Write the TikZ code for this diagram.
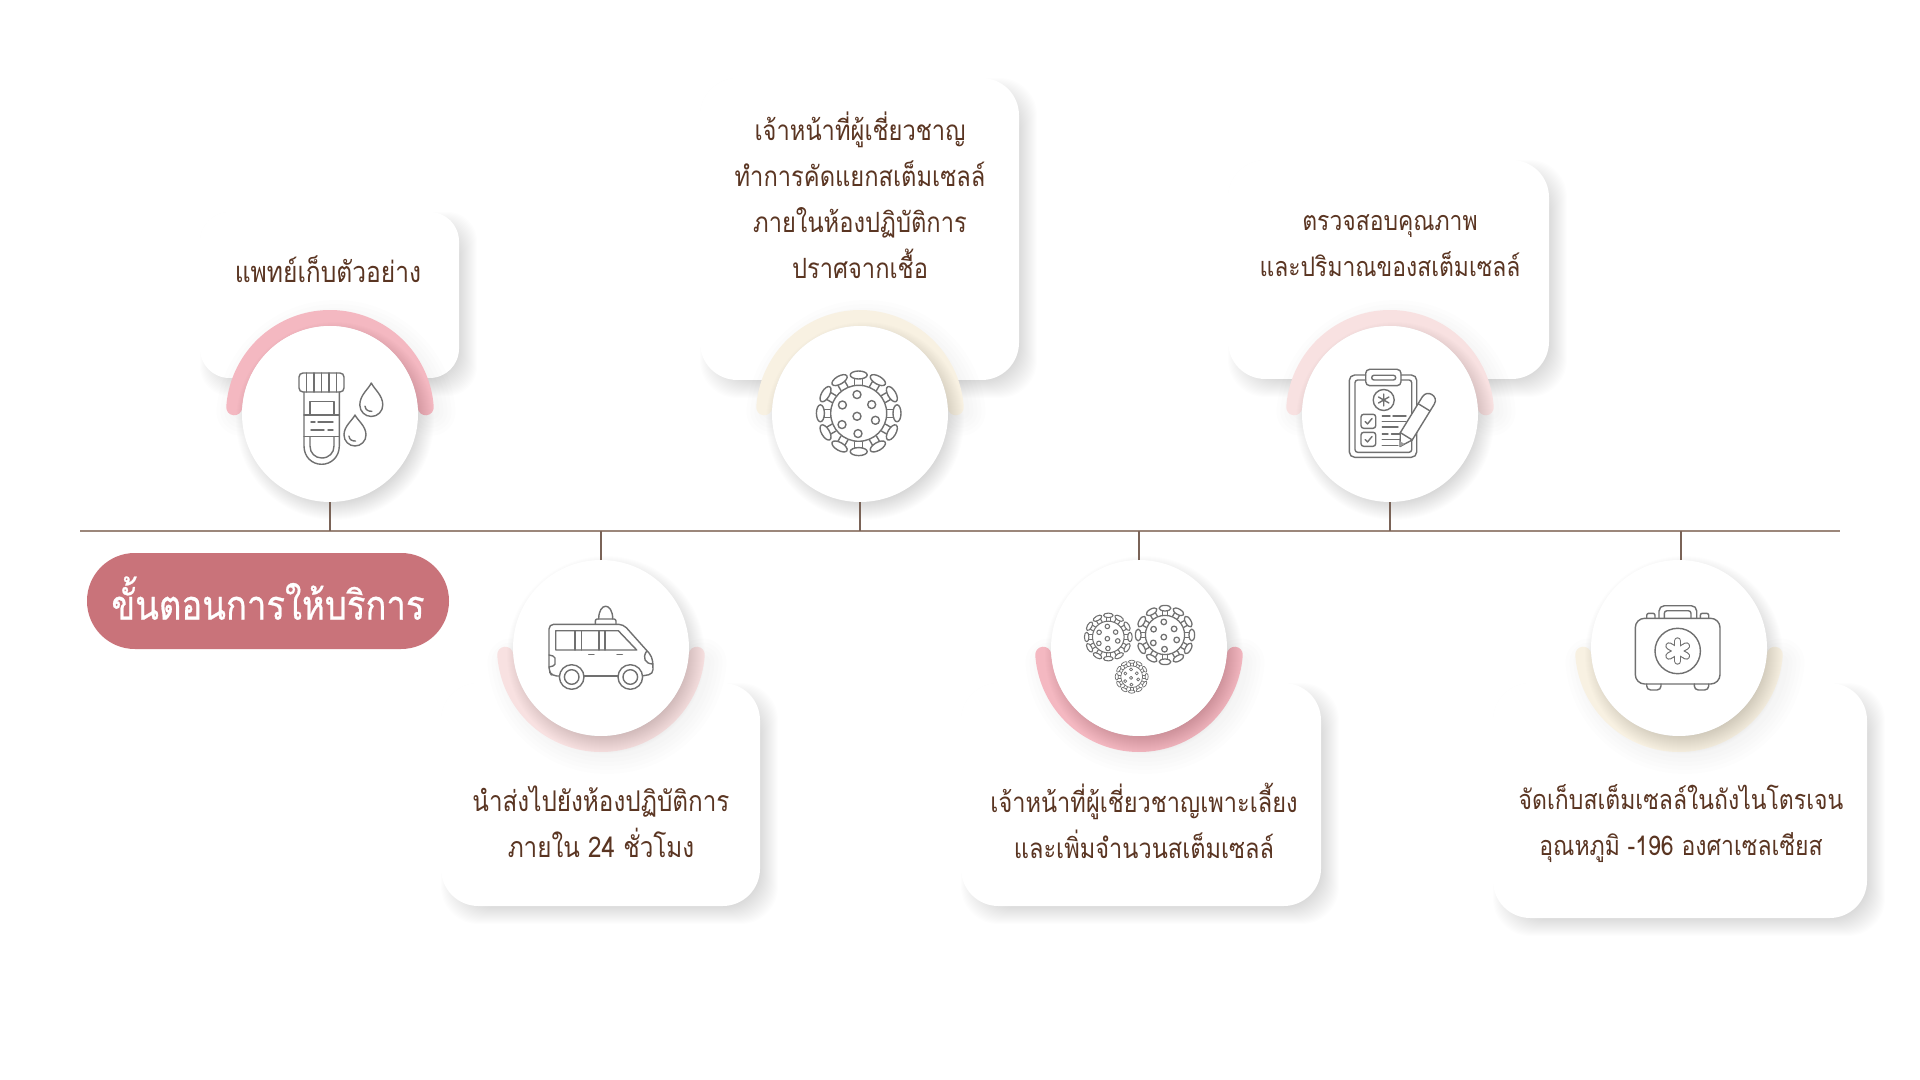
\documentclass[tikz,border=0pt]{standalone}
\usepackage{fontspec}
\newfontfamily\thaifont[Script=Thai,FakeStretch=0.85]{Loma}
\newfontfamily\pillfont[Script=Thai,FakeStretch=0.85,FakeBold=0.6]{Loma}
\definecolor{brn}{HTML}{5A3522}
\definecolor{baseln}{HTML}{9C877B}
\definecolor{stem}{HTML}{7A6357}
\definecolor{pinkA}{HTML}{F4B8C1}
\definecolor{creamA}{HTML}{F8F1E2}
\definecolor{pinkB}{HTML}{F8E1E1}
\definecolor{pillc}{HTML}{C9737A}
\definecolor{ico}{HTML}{707070}
\tikzset{
  x=0.75pt,y=-0.75pt,
  card/.style={rectangle,fill=white,rounded corners=#1,inner sep=0pt,outer sep=0pt},
  card/.default=28pt,
  disc/.style={circle,fill=white,minimum size=132pt,inner sep=0pt,outer sep=0pt},
  lbl/.style={font=\thaifont\fontsize{#1}{34.5pt}\selectfont,text=brn,align=center,inner sep=0pt},
  ic/.style={draw=ico,line width=1.05pt,line cap=round,line join=round},
  stemline/.style={draw=stem,line width=1pt},
}
% soft shadows
\newcommand{\cardshadow}[5]{%
  \foreach \s in {9,8,...,-9}{%
    \fill[black,opacity=.0085,rounded corners=#5] ({#1+9-\s},{#2+9-\s}) rectangle ({#3+9+\s},{#4+9+\s});
  }}
\newcommand{\discshadow}[3]{%
  \foreach \s in {11,10,...,-8}{%
    \fill[black,opacity=.0062] ({#1+5},{#2+7}) circle[radius={#3+\s}];
  }}
\newcommand{\ringtop}[3]{%
  \foreach \s in {16,12,8,4,0}{%
    \draw[black,opacity=.009,line width={12pt+\s*1.5pt},line cap=round] plot[domain=5:175,samples=50] ({#1+6+96*cos(\x)},{#2+6-96*sin(\x)});
  }
  \draw[#3,line width=12pt,line cap=round] plot[domain=4:176,samples=70] ({#1+96*cos(\x)},{#2-96*sin(\x)});}
\newcommand{\ringbot}[3]{%
  \foreach \s in {16,12,8,4,0}{%
    \draw[black,opacity=.009,line width={12pt+\s*1.5pt},line cap=round] plot[domain=5:175,samples=50] ({#1+6+96*cos(\x)},{#2+6+96*sin(\x)});
  }
  \draw[#3,line width=12pt,line cap=round] plot[domain=4:176,samples=70] ({#1+96*cos(\x)},{#2+96*sin(\x)});}
% virus icon
\newcommand{\virus}[4]{%
  \begin{scope}[shift={(#1,#2)},scale=#3,ic,line width=#4]
    \draw (0,0) circle[radius=28];
    \foreach \a in {0,30,...,330}{%
      \begin{scope}[rotate=\a]
        \draw (-4,-28.5) -- (-4,-34.5) (4,-28.5) -- (4,-34.5);
        \draw (0,-38.3) ellipse[x radius=8.5,y radius=4];
      \end{scope}}
    \foreach \p/\q in {-1.7/-18.7,-16.3/-8.3,13/-8.7,-1.7/3,-16.7/11.3,16.7/7,-.7/20.3}{%
      \draw (\p,\q) circle[radius=4];}
  \end{scope}}
% drop
\newcommand{\drop}[4]{%
  \draw[ic] ({#1},{#2-#4}) .. controls ({#1+.25*#3},{#2-.72*#4}) and ({#1+#3},{#2-.45*#4}) .. ({#1+#3},{#2})
     .. controls ({#1+#3},{#2+.55*#3}) and ({#1+.55*#3},{#2+#3}) .. ({#1},{#2+#3})
     .. controls ({#1-.55*#3},{#2+#3}) and ({#1-#3},{#2+.55*#3}) .. ({#1-#3},{#2})
     .. controls ({#1-#3},{#2-.45*#4}) and ({#1-.25*#3},{#2-.72*#4}) .. cycle;
  \draw[ic] ({#1-.55*#3},{#2+.1*#3}) .. controls ({#1-.5*#3},{#2+.45*#3}) and ({#1-.25*#3},{#2+.55*#3}) .. ({#1+.05*#3},{#2+.55*#3});}
\begin{document}
\begin{tikzpicture}
\useasboundingbox (0,0) rectangle (1920,1080);
\fill[white] (0,0) rectangle (1920,1080);
% ---- cards
\cardshadow{200}{212}{459}{378}{22pt}
\node[card=22pt,minimum width=194.25pt,minimum height=124.5pt] (k1) at (329.5,295) {};
\cardshadow{700}{78}{1019}{380}{28pt}
\node[card,minimum width=239.25pt,minimum height=226.5pt] (k2) at (859.5,229) {};
\cardshadow{1228}{160}{1549}{379}{28pt}
\node[card,minimum width=240.75pt,minimum height=164.25pt] (k3) at (1388.5,269.5) {};
\cardshadow{441}{683}{760}{906}{28pt}
\node[card,minimum width=239.25pt,minimum height=167.25pt] (k4) at (600.5,794.5) {};
\cardshadow{961}{683}{1321}{906}{28pt}
\node[card,minimum width=270pt,minimum height=167.25pt] (k5) at (1141,794.5) {};
\cardshadow{1493}{683}{1867}{918}{28pt}
\node[card,minimum width=280.5pt,minimum height=176.25pt] (k6) at (1680,800.5) {};
% ---- base line
\coordinate (bl) at (80,531);
\coordinate (br) at (1840,531);
\draw[draw=baseln,line width=1.2pt] (bl) -- (br);
% ---- rings, discs
\ringtop{330}{414}{pinkA}
\discshadow{330}{414}{88}
\node[disc] (c1) at (330,414) {};
\ringtop{860}{414}{creamA}
\discshadow{860}{414}{88}
\node[disc] (c2) at (860,414) {};
\ringtop{1390}{414}{pinkB}
\discshadow{1390}{414}{88}
\node[disc] (c3) at (1390,414) {};
\ringbot{601}{648}{pinkB}
\discshadow{601}{648}{88}
\node[disc] (c4) at (601,648) {};
\ringbot{1139}{648}{pinkA}
\discshadow{1139}{648}{88}
\node[disc] (c5) at (1139,648) {};
\ringbot{1679}{648}{creamA}
\discshadow{1679}{648}{88}
\node[disc] (c6) at (1679,648) {};
% ---- stems
\draw[stemline] (c1.south) -- (c1.south |- bl);
\draw[stemline] (c2.south) -- (c2.south |- bl);
\draw[stemline] (c3.south) -- (c3.south |- bl);
\draw[stemline] (c4.north) -- (c4.north |- bl);
\draw[stemline] (c5.north) -- (c5.north |- bl);
\draw[stemline] ([xshift=1.5pt]c6.north) -- ([xshift=1.5pt]c6.north |- bl);
% ---- tube icon
\draw[ic,rounded corners=3pt] (299,373) rectangle (344,392);
\draw[ic] (306.7,373) -- (306.7,392) (314,373) -- (314,392) (321.7,373) -- (321.7,392) (329,373) -- (329,392) (336.7,373) -- (336.7,392);
\draw[ic] (304,392) -- (304,446) .. controls (304,457) and (312,464.3) .. (321.7,464.3) .. controls (331,464.3) and (339.3,457) .. (339.3,446) -- (339.3,392);
\draw[ic] (310,436.7) -- (310,446) .. controls (310,453) and (315,458) .. (321.7,458) .. controls (329,458) and (334,453) .. (334,446) -- (334,436.7);
\draw[ic] (310,415) -- (310,401.7) -- (334,401.7) -- (334,415);
\draw[ic] (304,415) -- (339.3,415) (304,436.7) -- (339.3,436.7);
\draw[ic] (311,422) -- (315,422) (318,422) -- (333,422) (311,430) -- (324,430) (328,430) -- (333,430);
\drop{371.3}{405}{11.5}{22}
\drop{355}{435}{11}{20}
% ---- virus icons
\virus{858.7}{413.3}{1}{1.05pt}
\virus{1165}{635}{.7}{.95pt}
\virus{1108.3}{637}{.565}{.8pt}
\virus{1131.7}{676.7}{.39}{.55pt}
% ---- clipboard icon
\draw[ic,rounded corners=4pt] (1365.7,375) -- (1349.3,375) -- (1349.3,457.3) -- (1416.7,457.3) -- (1416.7,375) -- (1401,375);
\draw[ic,rounded corners=2pt] (1365.7,380) -- (1355,380) -- (1355,452.3) -- (1411.7,452.3) -- (1411.7,380) -- (1401,380);
\draw[ic,rounded corners=3pt] (1365.7,369.3) rectangle (1401,385.7);
\draw[ic,rounded corners=1.7pt] (1371.7,375.3) rectangle (1395.7,380);
\draw[ic] (1383.7,400) circle[radius=10.5];
\draw[ic] (1383.7,394) -- (1383.7,406) (1378.5,397) -- (1388.9,403) (1378.5,403) -- (1388.9,397);
\draw[ic,rounded corners=2pt] (1361,414.3) rectangle (1375.7,428.3);
\draw[ic,rounded corners=2pt] (1361,432.3) rectangle (1375.7,446.3);
\draw[ic] (1365,421.5) -- (1367.5,424) -- (1372,418.5) (1365,439.5) -- (1367.5,442) -- (1372,436.5);
\draw[ic] (1382.3,416) -- (1390,416) (1393,416) -- (1406,416) (1382.3,421.7) -- (1406,421.7) (1382.3,427) -- (1398,427) (1382.3,434) -- (1388,434) (1391.5,434) -- (1400,434) (1382.3,439.7) -- (1401,439.7) (1382.3,445.3) -- (1398,445.3);
\begin{scope}[shift={(1400,446.5)},rotate=58.4]
  \fill[white] (0,0) -- (12,-7) -- (54,-7) .. controls (63.3,-7) and (63.3,7) .. (54,7) -- (12,7) -- cycle;
  \draw[ic] (0,0) -- (12,-7) -- (54,-7) .. controls (63.3,-7) and (63.3,7) .. (54,7) -- (12,7) -- cycle;
  \draw[ic] (12,-7) -- (12,7) (46,-7) -- (46,7);
  \fill[ico!70] (0,0) -- (4.5,-2.6) -- (4.5,2.6) -- cycle;
\end{scope}
% ---- ambulance icon
\draw[ic,rounded corners=3.5pt] (559,676) -- (552,676) -- (549,671) -- (549,624.3) -- (623.3,624.3) -- (652.3,656.7) -- (653.3,674) -- (643.3,675.7);
\draw[ic] (584,676) -- (618.3,676);
\draw[ic,fill=white] (571.7,677) circle[radius=12.3];
\draw[ic] (571.7,677) circle[radius=7.3];
\draw[ic,fill=white] (630.3,677) circle[radius=12.3];
\draw[ic] (630.3,677) circle[radius=7.3];
\draw[ic] (555.7,630.7) -- (618.3,630.7) -- (636.7,650) -- (555.7,650) -- cycle;
\draw[ic] (575,630.7) -- (575,650) (581.7,630.7) -- (581.7,650) (599,630.7) -- (599,650) (605,630.7) -- (605,650);
\draw[ic] (598.7,619) .. controls (598.7,602) and (612.7,602) .. (612.7,619);
\draw[ic,rounded corners=1.5pt] (595.3,624.3) -- (595.3,619) -- (616,619) -- (616,624.3);
\draw[ic] (588.7,654.7) -- (594,654.7) (617,654.7) -- (622.3,654.7);
\draw[ic] (549,655) -- (553,656) -- (555,658) -- (555,664) -- (553,666) -- (549,667);
\draw[ic] (646.7,651) .. controls (642,658) and (645,664) .. (653.3,664);
% ---- medical case icon
\draw[ic,rounded corners=7pt] (1635.3,618.3) rectangle (1720,684);
\draw[ic,rounded corners=4pt] (1659,618.3) -- (1659,605.7) -- (1696.7,605.7) -- (1696.7,618.3);
\draw[ic,rounded corners=2pt] (1664.3,618.3) -- (1664.3,610.7) -- (1691,610.7) -- (1691,618.3);
\draw[ic,rounded corners=1.5pt] (1646.7,618.3) -- (1646.7,613.3) -- (1655,613.3) -- (1655,618.3);
\draw[ic,rounded corners=1.5pt] (1700.3,618.3) -- (1700.3,613.3) -- (1708.7,613.3) -- (1708.7,618.3);
\draw[ic,rounded corners=3pt] (1646.7,684) -- (1646.7,690) -- (1661,690) -- (1661,684);
\draw[ic,rounded corners=3pt] (1694.3,684) -- (1694.3,690) -- (1708.7,690) -- (1708.7,684);
\draw[ic] (1677.7,651) circle[radius=22.7];
\foreach \a in {90,30,-30}{%
  \draw[ico,line width=5.6pt,line cap=round] ({1677.7+10*cos(\a)},{651-10*sin(\a)}) -- ({1677.7-10*cos(\a)},{651+10*sin(\a)});}
\foreach \a in {90,30,-30}{%
  \draw[white,line width=3.9pt,line cap=round] ({1677.7+10*cos(\a)},{651-10*sin(\a)}) -- ({1677.7-10*cos(\a)},{651+10*sin(\a)});}
% ---- pill
\node[rectangle,fill=pillc,rounded corners=35.9pt,minimum width=271.5pt,minimum height=72pt,inner sep=0pt,outer sep=0pt,text=white,font=\pillfont\fontsize{30.6pt}{36pt}\selectfont] (pill) at (268,601) {\raisebox{4.5pt}{ขั้นตอนการให้บริการ}};
% ---- labels
\node[lbl=21.7pt] (t1) at (328,269) {แพทย์เก็บตัวอย่าง};
\node[lbl=20.9pt] (t2) at (860,195.5) {เจ้าหน้าที่ผู้เชี่ยวชาญ\\ทำการคัดแยกสเต็มเซลล์\\ภายในห้องปฏิบัติการ\\ปราศจากเชื้อ};
\node[lbl=20.2pt] (t3) at (1390,246) {ตรวจสอบคุณภาพ\\และปริมาณของสเต็มเซลล์};
\node[lbl=21.4pt] (t4) at (601,821.5) {นำส่งไปยังห้องปฏิบัติการ\\ภายใน 24 ชั่วโมง};
\node[lbl=20.8pt] (t5) at (1144,820.5) {เจ้าหน้าที่ผู้เชี่ยวชาญเพาะเลี้ยง\\และเพิ่มจำนวนสเต็มเซลล์};
\node[lbl=20.3pt] (t6) at (1681,824) {จัดเก็บสเต็มเซลล์ในถังไนโตรเจน\\อุณหภูมิ -196 องศาเซลเซียส};
\end{tikzpicture}
\end{document}
